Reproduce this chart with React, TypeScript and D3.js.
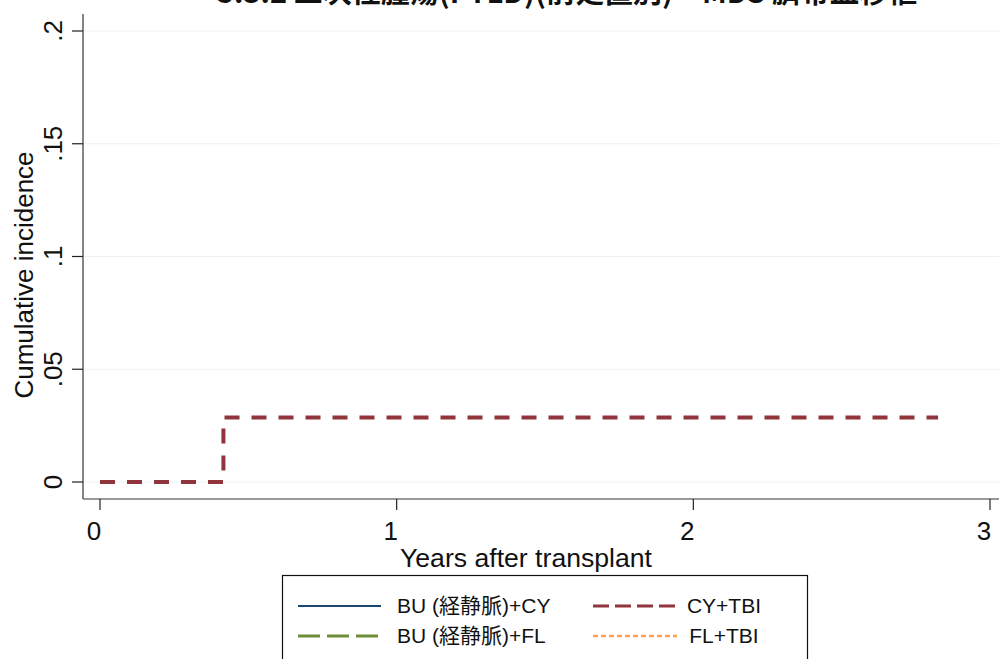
import React, { useEffect, useRef } from "react";
import * as d3 from "d3";

// data (years, cumulative incidence)
const cyTbi: [number, number][] = [
	[0, 0],
	[0.416, 0],
	[0.416, 0.0286],
	[2.825, 0.0286],
];
const buCy: [number, number][] = [];
const buFl: [number, number][] = [];
const flTbi: [number, number][] = [];

const xTicks = [0, 1, 2, 3];
const yTicks = [0, 0.05, 0.1, 0.15, 0.2];
const yTickLabels = ["0", ".05", ".1", ".15", ".2"];

const titleText = "5.3.2 二次性腫瘍(PTLD)(前処置別) – MDS 臍帯血移植";

type Series = { name: string; data: [number, number][]; color: string; width: number; dash: string; legendDash: string };

const series: Series[] = [
	{ name: "BU (経静脈)+CY", data: buCy, color: "#1a476f", width: 2, dash: "none", legendDash: "none" },
	{ name: "CY+TBI", data: cyTbi, color: "#90353b", width: 4, dash: "15,12", legendDash: "16,6" },
	{ name: "BU (経静脈)+FL", data: buFl, color: "#6e8e3a", width: 3, dash: "22,7", legendDash: "22,7" },
	{ name: "FL+TBI", data: flTbi, color: "#ffa14f", width: 2.5, dash: "5,3", legendDash: "5,3" },
];

export default function App() {
	const svgRef = useRef<SVGSVGElement | null>(null);

	useEffect(() => {
		if (!svgRef.current) return;
		const width = 999;
		const height = 659;
		const axisX = 83;
		const axisY = 499;

		const x = d3.scaleLinear().domain([0, 3]).range([100, 990]);
		const y = d3.scaleLinear().domain([0, 0.2]).range([482, 31]);

		const svg = d3.select(svgRef.current);
		svg.selectAll("*").remove();
		svg.attr("viewBox", `0 0 ${width} ${height}`);
		svg.append("rect").attr("width", width).attr("height", height).attr("fill", "#fff");

		const font = "'Liberation Sans', Arial, sans-serif";

		// title, clipped at the top like the reference
		svg
			.append("text")
			.attr("x", 567)
			.attr("y", 3)
			.attr("text-anchor", "middle")
			.attr("font-family", "'Noto Sans CJK JP', sans-serif")
			.attr("font-size", 29)
			.attr("font-weight", "bold")
			.attr("fill", "#111")
			.text(titleText);

		// grid
		svg
			.append("g")
			.selectAll("line")
			.data(yTicks)
			.enter()
			.append("line")
			.attr("x1", axisX)
			.attr("x2", width)
			.attr("y1", (d) => y(d))
			.attr("y2", (d) => y(d))
			.attr("stroke", "#eaf2f3")
			.attr("stroke-width", 1);

		// axes
		svg.append("line").attr("x1", axisX).attr("x2", axisX).attr("y1", 14).attr("y2", axisY).attr("stroke", "#333").attr("stroke-width", 1.2);
		svg.append("line").attr("x1", axisX).attr("x2", width).attr("y1", axisY).attr("y2", axisY).attr("stroke", "#333").attr("stroke-width", 1.2);

		const yg = svg.append("g");
		yTicks.forEach((t, i) => {
			yg.append("line").attr("x1", axisX - 11).attr("x2", axisX).attr("y1", y(t)).attr("y2", y(t)).attr("stroke", "#222").attr("stroke-width", 1.2);
			yg.append("text")
				.attr("transform", `translate(62,${y(t)}) rotate(-90)`)
				.attr("text-anchor", "middle")
				.attr("font-family", font)
				.attr("font-size", 26)
				.attr("fill", "#111")
				.text(yTickLabels[i]);
		});

		const xg = svg.append("g");
		xTicks.forEach((t) => {
			xg.append("line").attr("x1", x(t)).attr("x2", x(t)).attr("y1", axisY).attr("y2", axisY + 11).attr("stroke", "#222").attr("stroke-width", 1.2);
			xg.append("text")
				.attr("x", x(t) - 6)
				.attr("y", 540)
				.attr("text-anchor", "middle")
				.attr("font-family", font)
				.attr("font-size", 26)
				.attr("fill", "#111")
				.text(String(t));
		});

		svg
			.append("text")
			.attr("transform", "translate(33,275) rotate(-90)")
			.attr("text-anchor", "middle")
			.attr("font-family", font)
			.attr("font-size", 26)
			.attr("fill", "#111")
			.text("Cumulative incidence");

		svg
			.append("text")
			.attr("x", 526)
			.attr("y", 567)
			.attr("text-anchor", "middle")
			.attr("font-family", font)
			.attr("font-size", 26)
			.attr("textLength", 252)
			.attr("lengthAdjust", "spacingAndGlyphs")
			.attr("fill", "#111")
			.text("Years after transplant");

		// curves
		const line = d3
			.line<[number, number]>()
			.x((d) => x(d[0]))
			.y((d) => y(d[1]));
		series.forEach((s) => {
			if (!s.data.length) return;
			svg
				.append("path")
				.attr("d", line(s.data))
				.attr("fill", "none")
				.attr("stroke", s.color)
				.attr("stroke-width", s.width)
				.attr("stroke-dasharray", s.dash);
		});

		// legend
		const lg = svg.append("g");
		lg.append("rect").attr("x", 282.5).attr("y", 575.5).attr("width", 525).attr("height", 100).attr("fill", "#fff").attr("stroke", "#111").attr("stroke-width", 1.2);
		series.forEach((s, i) => {
			const col = i % 2;
			const row = Math.floor(i / 2);
			const ly = 606 + row * 30;
			const x1 = col === 0 ? 298 : 593;
			const x2 = col === 0 ? 381 : 677;
			lg.append("line")
				.attr("x1", x1)
				.attr("x2", x2)
				.attr("y1", ly)
				.attr("y2", ly)
				.attr("stroke", s.color)
				.attr("stroke-width", s.width === 4 ? 3 : s.width)
				.attr("stroke-dasharray", s.legendDash);
			lg.append("text")
				.attr("x", col === 0 ? 397 : 724)
				.attr("y", ly + 7)
				.attr("text-anchor", col === 0 ? "start" : "middle")
				.attr("font-family", "'Liberation Sans', 'Noto Sans CJK JP', sans-serif")
				.attr("font-size", 21)
				.attr("fill", "#111")
				.text(s.name);
		});
	}, []);

	return (
		<div style={{ position: "absolute", left: 0, top: 0 }}>
			<svg ref={svgRef} width={999} height={659} style={{ display: "block" }} />
		</div>
	);
}
